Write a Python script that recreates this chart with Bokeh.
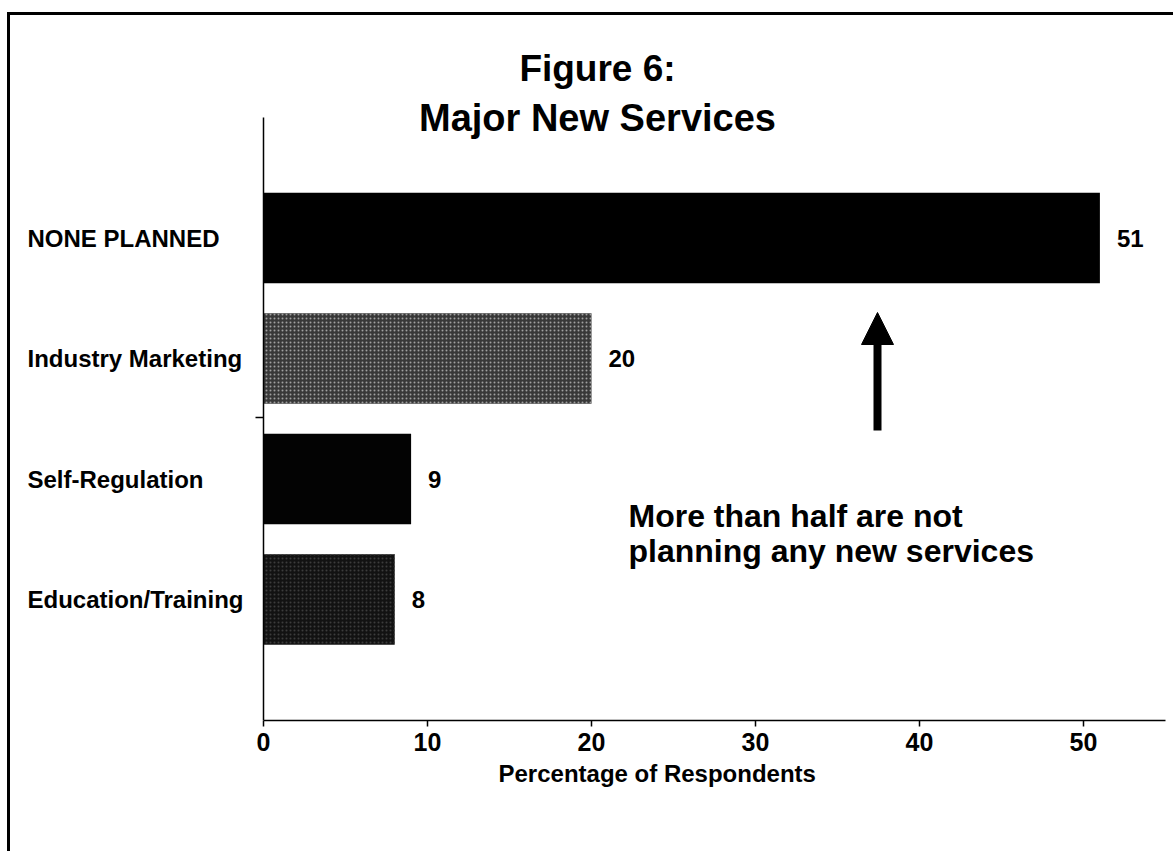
from bokeh.plotting import figure
from bokeh.models import (ColumnDataSource, Range1d, LabelSet, Label, Title,
                          Arrow, NormalHead, FixedTicker, InlineStyleSheet)
from bokeh.core.properties import value
from bokeh.embed import file_html
from bokeh.resources import INLINE

# ---- data ----
categories = ["NONE PLANNED", "Industry Marketing", "Self-Regulation", "Education/Training"]
percentages = [51, 20, 9, 8]
x_ticks = [0, 10, 20, 30, 40, 50]
title_lines = ["Figure 6:", "Major New Services"]
x_title = "Percentage of Respondents"
note_lines = ["More than half are not", "planning any new services"]

# ---- style ----
bar_fill = ["#000000", "#383838", "#030303", "#121212"]
bar_hatch = [" ", "dot", " ", "dot"]
bar_hatch_color = ["#000000", "#a0a0a0", "#000000", "#3c3c3c"]

FONT = "Liberation Sans"
W, H = 1173, 851
AX_X0 = 263          # canvas x of value 0
PX = 902 / 55.0      # pixels per percentage point
FRAME_BOTTOM = 720   # canvas y of the x axis
ROW = 120.5          # pixels per category row
LAST_ROW_GAP = 121   # pixels from lowest bar centre to the axis
AXIS_TOP = 117       # canvas y where the vertical axis line starts

X0 = -AX_X0 / PX
X1 = (W - AX_X0) / PX
Y0 = -LAST_ROW_GAP / ROW
Y1 = Y0 + FRAME_BOTTOM / ROW

def dx(cx):
    return (cx - AX_X0) / PX

def dy(cy):
    return Y1 - cy / ROW

n = len(categories)
ypos = [n - 1 - i for i in range(n)]

src = ColumnDataSource(dict(cat=categories, val=percentages, y=ypos,
                            lbl=[str(v) for v in percentages],
                            fill=bar_fill, hatch=bar_hatch, hcol=bar_hatch_color))

p = figure(width=W, height=H,
           x_range=Range1d(X0, X1), y_range=Range1d(Y0, Y1),
           output_backend="svg", toolbar_location=None,
           min_border_left=0, min_border_right=0,
           min_border_top=0, min_border_bottom=H - FRAME_BOTTOM)
p.outline_line_color = None
p.xgrid.visible = False
p.ygrid.visible = False
p.yaxis.visible = False
p.background_fill_color = None
p.border_fill_color = None
# page frame lines (left and top) as a CSS background of the figure element
p.stylesheets = [InlineStyleSheet(css=(
    ":host { background-color: white;"
    " background-image: linear-gradient(#000, #000), linear-gradient(#000, #000);"
    " background-size: 3px 100%, 100% 3px;"
    " background-position: 7px 12px, 7px 12px;"
    " background-repeat: no-repeat; }"))]

p.hbar(y="y", right="val", left=0, height=0.75, source=src,
       fill_color="fill", line_color=None,
       hatch_pattern="hatch", hatch_color="hcol", hatch_scale=4, hatch_weight=1)

# vertical axis line (starts just below the title) and the small stray tick
p.segment(x0=[0], y0=[Y0], x1=[0], y1=[dy(AXIS_TOP)], line_color="black", line_width=1.5)
p.segment(x0=[dx(255)], y0=[dy(417)], x1=[0], y1=[dy(417)], line_color="black", line_width=1.5)

# x axis
ax = p.xaxis[0]
ax.ticker = FixedTicker(ticks=x_ticks)
ax.bounds = (0, 55)
ax.axis_line_color = "black"
ax.axis_line_width = 1.5
ax.major_tick_in = 0
ax.major_tick_out = 6
ax.major_tick_line_width = 1.5
ax.minor_tick_line_color = None
ax.major_label_standoff = 6
ax.major_label_text_font = FONT
ax.major_label_text_font_size = "25px"
ax.major_label_text_font_style = "bold"
ax.major_label_text_color = "black"

# x axis title below the axis
p.add_layout(Title(text=x_title, align="left", offset=498, standoff=8,
                   text_font=FONT, text_font_size="24px", text_font_style="bold",
                   text_color="black"), "below")

# category labels, left aligned
p.add_layout(LabelSet(x=dx(27), y="y", text="cat", source=src,
                      text_font=value(FONT), text_font_size="24px", text_font_style="bold",
                      text_align="left", text_baseline="middle", text_color="black"))

# value labels
p.add_layout(LabelSet(x="val", y="y", text="lbl", source=src, x_offset=17,
                      text_font=value(FONT), text_font_size="24px", text_font_style="bold",
                      text_align="left", text_baseline="middle", text_color="black"))

# titles
p.add_layout(Label(x=dx(597), y=dy(68), text=title_lines[0], text_font=FONT,
                   text_font_size="37px", text_font_style="bold", text_align="center",
                   text_baseline="alphabetic", text_color="black"))
p.add_layout(Label(x=dx(597), y=dy(117), text=title_lines[1], text_font=FONT,
                   text_font_size="38px", text_font_style="bold", text_align="center",
                   text_baseline="alphabetic", text_color="black"))

# annotation
p.add_layout(Label(x=dx(628), y=dy(515), text=note_lines[0], text_font=FONT,
                   text_font_size="32px", text_font_style="bold", text_align="left",
                   text_baseline="alphabetic", text_color="black"))
p.add_layout(Label(x=dx(628), y=dy(550), text=note_lines[1], text_font=FONT,
                   text_font_size="32px", text_font_style="bold", text_align="left",
                   text_baseline="alphabetic", text_color="black"))
p.add_layout(Arrow(end=NormalHead(size=32, fill_color="black", line_color="black", line_width=1),
                   x_start=dx(877), y_start=dy(430), x_end=dx(877), y_end=dy(312),
                   line_color="black", line_width=8))

open("out.html", "w").write(file_html(p, INLINE))
